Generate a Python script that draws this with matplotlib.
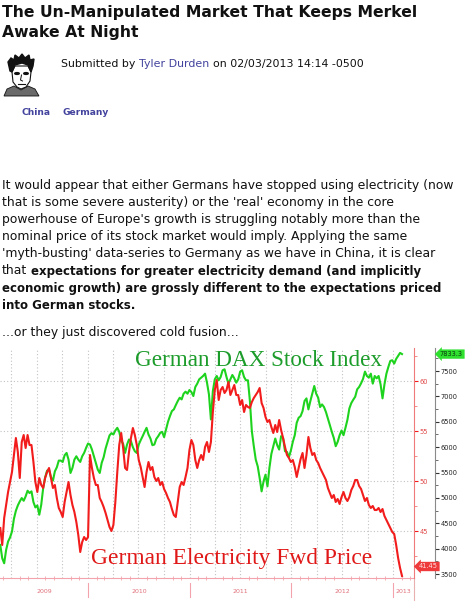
import numpy as np
import pandas as pd
import matplotlib
matplotlib.use("Agg")
import matplotlib.pyplot as plt
import matplotlib.dates as mdates
import matplotlib.transforms as mtransforms
from matplotlib.ticker import MultipleLocator
from matplotlib.patches import Polygon, Ellipse

plt.rcParams['font.family'] = ['DejaVu Sans']

W, H, DPI = 465, 606, 100

# weekly closes
dates = pd.date_range("2009-02-20", periods=207, freq="7D")

dax = [4076, 3812, 3714, 3977, 4142, 4221, 4339, 4590, 4748, 4853,
       4932, 4998, 4945, 5031, 5143, 5097, 5130, 4919, 4814, 4853,
       4669, 4866, 5196, 5406, 5538, 5558, 5406, 5340, 5525, 5604,
       5736, 5736, 5709, 5841, 5887, 5755, 5492, 5591, 5755, 5821,
       5755, 5709, 5821, 5887, 5986, 6072, 6052, 5953, 5821, 5690,
       5558, 5492,
       5690, 5802, 5973, 6105, 6230, 6276, 6250, 6329, 6381, 6302,
       6131, 6065, 5887, 6052, 6151, 6118, 5999, 5920, 5887, 6052,
       6138, 6217, 6302, 6381, 6250, 6170, 6039, 6052, 6164, 6217,
       6282, 6302, 6197, 6348, 6500, 6612, 6711, 6744, 6829, 6908,
       6974, 6941, 7053, 7093, 7053, 7126, 7086, 7007, 7185, 7251,
       7336,
       7369, 7402, 7448, 7270, 7040, 6546, 7106, 7336, 7402, 7317,
       7382, 7514, 7534, 7382, 7251, 7336, 7422, 7356, 7270, 7336,
       7488, 7514, 7382, 7317, 7317, 6908, 6315, 6019, 5755, 5624,
       5393, 5130, 5327, 5459, 5229, 5591, 5867, 6019, 6170, 6039,
       5953, 6217, 6184, 5920, 5907, 5802, 5933, 6105, 6236, 6480,
       6579,
       6612, 6711, 6908, 6961, 6744, 6908, 7053, 7205, 7053, 6974,
       6790, 6842, 6790, 6691, 6566, 6434, 6302, 6184, 6019, 6105,
       6236, 6329, 6236, 6381, 6539, 6763, 6869, 6935, 6994, 7139,
       7185, 7257, 7343, 7488, 7402, 7369, 7448, 7251, 7402, 7356,
       7402, 7238, 6961, 7238, 7448, 7580, 7699, 7712, 7646, 7738,
       7797, 7857, 7833]

power = [45.3, 43.6, 46.3, 47.6, 48.9, 49.9, 50.9, 52.6, 54.3, 52.9,
         50.3, 53.9, 54.6, 53.3, 54.6, 53.6, 53.6, 51.9, 49.9, 48.9,
         50.3, 49.6, 49.3, 50.3, 50.9, 51.3, 50.3, 49.3, 49.6, 48.3,
         47.3, 46.9, 46.4, 47.9, 48.9, 49.9, 48.6, 47.6, 46.9, 45.9,
         44.6, 42.9, 43.9, 44.4, 44.1, 44.4, 52.6, 51.3, 50.3, 49.6,
         49.6, 48.3,
         47.9, 47.4, 46.8, 46.1, 45.4, 45.0, 45.6, 47.9, 50.9, 53.6,
         54.8, 53.3, 51.3, 51.1, 52.9, 54.3, 55.3, 54.6, 53.6, 52.1,
         51.4, 50.4, 49.4, 50.9, 51.9, 51.1, 51.4, 50.4, 50.0, 50.3,
         49.6, 49.9, 49.2, 48.8, 48.3, 47.9, 47.2, 46.6, 46.4, 47.9,
         49.4, 49.9, 49.6, 50.4, 51.3, 53.1, 54.1, 53.6, 52.1, 51.3,
         52.1,
         52.6, 52.1, 53.4, 53.9, 52.9, 53.9, 56.9, 59.1, 60.1, 58.1,
         59.1, 59.4, 58.8, 59.1, 59.9, 58.6, 59.1, 59.6, 58.6, 58.6,
         57.6, 58.1, 56.9, 57.6, 57.4, 57.3, 57.9, 58.3, 58.6, 58.9,
         59.3, 57.8, 57.3, 56.4, 55.9, 56.1, 55.4, 54.8, 55.6, 54.9,
         56.1, 55.1, 54.3, 53.4, 52.6, 52.3, 51.9, 52.1, 51.4, 50.4,
         51.3,
         52.2, 52.8, 51.3, 52.6, 54.4, 53.3, 52.6, 52.8, 52.1, 51.8,
         51.3, 50.9, 50.5, 50.1, 49.3, 48.8, 48.3, 48.6, 47.9, 48.2,
         47.7, 48.4, 48.9, 48.3, 48.0, 48.4, 49.1, 49.5, 50.1, 50.1,
         49.5, 49.2, 48.6, 48.0, 48.3, 47.6, 47.3, 47.5, 47.1, 47.1,
         47.3, 46.9, 47.2, 46.5, 46.1, 45.7, 45.3, 44.9, 44.7, 43.6,
         42.3, 41.3, 40.5]

red_ticks = [45, 50, 55, 60]
dax_ticks = list(range(3500, 8000, 500))
years = [2009, 2010, 2011, 2012, 2013]
dax_last = 7833.3
power_last = 41.45

title = ["The Un-Manipulated Market That Keeps Merkel", "Awake At Night"]
para = ["It would appear that either Germans have stopped using electricity (now",
        "that is some severe austerity) or the 'real' economy in the core",
        "powerhouse of Europe's growth is struggling notably more than the",
        "nominal price of its stock market would imply. Applying the same",
        "'myth-busting' data-series to Germany as we have in China, it is clear"]
bold6 = "expectations for greater electricity demand (and implicitly"
bold_lines = ["economic growth) are grossly different to the expectations priced",
              "into German stocks."]
coda = "...or they just discovered cold fusion..."

link = "#43439e"
green = "#1ed31e"
red = "#f21c1c"
pink = "#f3a3ab"

fig = plt.figure(figsize=(W / DPI, H / DPI), dpi=DPI)
fig.patch.set_facecolor("white")
page = fig.add_axes([0, 0, 1, 1])
page.set_xlim(0, W)
page.set_ylim(H, 0)
page.axis("off")
rend = fig.canvas.get_renderer()


def text_w(t):
    return t.get_window_extent(rend).width


def fit_size(s, target, **kw):
    t = page.text(0, 0, s, fontsize=10, **kw)
    size = 10 * target / text_w(t)
    t.remove()
    return size


def space_w(size, **kw):
    a = page.text(0, 0, "x x", fontsize=size, **kw)
    b = page.text(0, 0, "xx", fontsize=size, **kw)
    w = text_w(a) - text_w(b)
    a.remove()
    b.remove()
    return w


# header
ts = fit_size(title[0], 415, fontweight="bold")
page.text(2, 17, title[0], fontsize=ts, fontweight="bold", color="#111111", va="baseline")
page.text(2, 37, title[1], fontsize=ts, fontweight="bold", color="#111111", va="baseline")

# avatar
page.add_patch(Polygon([(4, 96), (7, 89), (14, 86), (21, 90), (28, 86), (35, 89), (39, 96)],
                       closed=True, fc="#6a6a6a", ec="#111111", lw=0.6))
page.add_patch(Polygon([(12, 72), (13, 82), (17, 87), (21, 89), (26, 87), (30, 81), (31, 72), (28, 66), (15, 66)],
                       closed=True, fc="white", ec="#111111", lw=0.8))
page.add_patch(Polygon([(10, 71), (8, 62), (11, 58), (14, 60), (15, 55), (19, 58), (22, 54), (25, 58),
                        (29, 55), (30, 60), (34, 59), (33, 66), (31, 72), (28, 65), (22, 63), (15, 65), (12, 72)],
                       closed=True, fc="#111111", ec="#111111"))
page.add_patch(Ellipse((17, 73.5), 4.5, 1.8, color="#111111"))
page.add_patch(Ellipse((26, 73.5), 4.5, 1.8, color="#111111"))
page.plot([21.5, 20.5, 22.5], [75, 80, 81], color="#111111", lw=0.7)
page.plot([18, 25], [84, 84], color="#111111", lw=0.8)

sub = "Submitted by Tyler Durden on 02/03/2013 14:14 -0500"
ss = fit_size(sub, 302)
sw = space_w(ss)
x = 61
for s, c in [("Submitted by", "#111111"), ("Tyler Durden", link), ("on 02/03/2013 14:14 -0500", "#111111")]:
    t = page.text(x, 67, s, fontsize=ss, color=c, va="baseline")
    x += text_w(t) + sw

ks = fit_size("China", 29, fontweight="semibold")
page.text(21, 115, "China", fontsize=ks, fontweight="semibold", color=link, va="baseline")
page.text(62, 115, "Germany", fontsize=ks, fontweight="semibold", color=link, va="baseline")

# body text
rs = fit_size(para[0], 453)
bs = fit_size(bold_lines[0], 440, fontweight="bold")
y = 189
for line in para:
    page.text(2, y, line, fontsize=rs, color="#111111", va="baseline")
    y += 17.1
t = page.text(2, y, "that", fontsize=rs, color="#111111", va="baseline")
page.text(2 + text_w(t) + space_w(rs), y, bold6, fontsize=bs, fontweight="bold",
          color="#111111", va="baseline")
y += 17.1
for line in bold_lines:
    page.text(2, y, line, fontsize=bs, fontweight="bold", color="#111111", va="baseline")
    y += 17.1
page.text(2, 336, coda, fontsize=rs, color="#111111", va="baseline")

# chart
ax = fig.add_axes([0, 28 / H, 414 / W, 230 / H])
axr = ax.twinx()
ax.patch.set_visible(False)
axr.patch.set_visible(False)

ax.plot(dates, dax, color=green, lw=1.5, zorder=3)
axr.plot(dates, power, color=red, lw=1.5, zorder=3)

ax.set_xlim(pd.Timestamp("2009-02-19"), pd.Timestamp("2013-03-16"))
ax.set_ylim(3424, 7953)
axr.set_ylim(40.3, 63.3)

hgrid = mtransforms.blended_transform_factory(ax.transAxes, axr.transData)
for v in red_ticks:
    ax.plot([0, 1], [v, v], transform=hgrid, color="#c2c2c2", ls=(0, (1, 2)), lw=0.8, zorder=1)
ax.set_ylim(3424, 7953)

ax.xaxis.set_major_locator(mdates.MonthLocator(bymonth=[1, 4, 7, 10]))
ax.xaxis.set_minor_locator(mdates.MonthLocator())
ax.tick_params(axis="x", which="major", length=0, labelbottom=False)
ax.tick_params(axis="x", which="minor", length=2.5, width=0.6, direction="inout", color=pink)
ax.grid(axis="x", which="major", color="#c2c2c2", ls=(0, (1, 2)), lw=0.8)

ax.yaxis.tick_right()
ax.spines["right"].set_position(("axes", 435 / 414))
ax.spines["right"].set_color("#8a8a8a")
ax.spines["right"].set_linewidth(0.8)
ax.spines["left"].set_visible(False)
ax.spines["top"].set_visible(False)
ax.spines["bottom"].set_color(pink)
ax.set_yticks(dax_ticks)
ax.yaxis.set_minor_locator(MultipleLocator(250))
ax.tick_params(axis="y", which="major", length=3, width=0.8, color="#333333",
               labelsize=4.8, pad=0.8, labelcolor="#222222")
ax.tick_params(axis="y", which="minor", length=1.8, width=0.6, color="#555555")

for s in ["left", "top", "bottom"]:
    axr.spines[s].set_visible(False)
axr.spines["right"].set_color("#f07a7a")
axr.spines["right"].set_linewidth(0.8)
axr.set_yticks(red_ticks)
axr.yaxis.set_minor_locator(MultipleLocator(2.5))
axr.tick_params(axis="y", which="major", length=3, width=0.8, color=red,
                labelsize=4.8, pad=1.2, labelcolor="#e04848")
axr.tick_params(axis="y", which="minor", length=1.8, width=0.6, color="#f07a7a")

page.plot([414, 414], [578, 600], color="#e8b0b0", lw=0.8)

yr_trans = mtransforms.blended_transform_factory(ax.transData, ax.transAxes)
x0, x1 = ax.get_xlim()
for yr in years:
    a = mdates.date2num(pd.Timestamp(f"{yr}-01-01"))
    b = mdates.date2num(pd.Timestamp(f"{yr + 1}-01-01"))
    if a > x0:
        ax.plot([a, a], [-0.022, -0.083], transform=yr_trans, clip_on=False, color=pink, lw=0.8)
    c = (max(a, x0) + min(b, x1)) / 2
    ax.text(c, -0.057, str(yr), transform=yr_trans, ha="center", va="center",
            fontsize=4.5, color="#e0707a")

tag_g = mtransforms.blended_transform_factory(ax.transAxes, ax.transData)
ax.text(435 / 414 + 0.012, dax_last, f"{dax_last:.1f}", transform=tag_g, fontsize=4.8,
        va="center", ha="left", color="#0b3b0b", clip_on=False,
        bbox=dict(boxstyle="larrow,pad=0.25", fc="#2fe02f", ec="none"))
tag_r = mtransforms.blended_transform_factory(axr.transAxes, axr.transData)
axr.text(1.012, power_last, f"{power_last:.2f}", transform=tag_r, fontsize=4.8,
         va="center", ha="left", color="#ffe0e0", clip_on=False,
         bbox=dict(boxstyle="larrow,pad=0.25", fc="#ee3a3a", ec="none"))

for s, x, y, w, c in [("German DAX Stock Index", 135, 366.5, 247, "#1c9c2a"),
                      ("German Electricity Fwd Price", 91, 564, 281, "#e01818")]:
    size = fit_size(s, w, family="Liberation Serif")
    axr.text(x, y, s, transform=page.transData, fontsize=size, family="Liberation Serif",
             color=c, va="baseline", zorder=10)

fig.savefig("out.png", dpi=DPI)
